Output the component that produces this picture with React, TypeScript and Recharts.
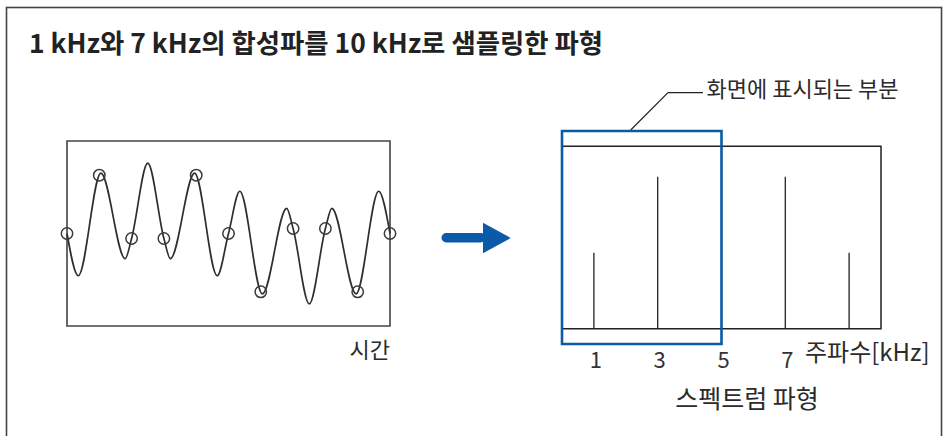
import React from 'react';
import {
  ComposedChart,
  Line,
  Scatter,
  XAxis,
  YAxis,
  ReferenceArea,
  ReferenceLine,
} from 'recharts';

// time-domain curve (ms, arbitrary amplitude)
const waveTime = [0, 0.035, 0.105, 0.18, 0.2, 0.25, 0.3, 0.32, 0.395, 0.465, 0.5, 0.535, 0.605, 0.68, 0.7, 0.75, 0.8, 0.82, 0.895, 0.965, 1.0];
const waveValue = [0, -42, 60, -25, -5, 70, -5, -25, 60, -42, 0, 42, -60, 25, 5, -70, 5, 25, -60, 42, 0];

// 10 kHz samples (circles)
const sampleTime = [0, 0.1, 0.2, 0.3, 0.4, 0.5, 0.6, 0.7, 0.8, 0.9, 1.0];
const sampleValue = [0, 58, -5, -5, 58, 0, -58, 5, 5, -58, 0];

// spectrum
const specFreq = [1, 3, 7, 9];
const specAmp = [0.5, 1, 1, 0.5];
const freqTicks = [1, 3, 5, 7];
const freqRange = [0, 10];
const shownBand = [0, 5];

const FONT = "'Noto Sans CJK KR', 'Noto Sans', sans-serif";
const BLUE = '#0b5aa8';
const INK = '#2b2b2b';

const waveData = waveTime.map((t, i) => ({ t, v: waveValue[i] }));
const sampleData = sampleTime.map((t, i) => ({ t, v: sampleValue[i] }));
const specData = specFreq.map((f, i) => ({ f, a: specAmp[i] }));

const SampleCircle = (props: any) => {
  const { cx, cy } = props;
  if (cx == null || cy == null) return null;
  return <circle cx={cx} cy={cy} r={5.7} fill="none" stroke="#3a3a3a" strokeWidth={1.5} />;
};

const TimeChart = () => (
  <ComposedChart width={343} height={205} data={waveData} margin={{ top: 10, right: 10, bottom: 10, left: 10 }}>
    <XAxis type="number" dataKey="t" domain={[0, 1]} hide />
    <YAxis type="number" domain={[-92, 92]} hide />
    <ReferenceArea x1={0} x2={1} y1={-92} y2={92} stroke="#444" strokeWidth={1.6} fill="none" fillOpacity={0} />
    <Line type="monotone" dataKey="v" stroke="#2e2e2e" strokeWidth={1.7} dot={false} isAnimationActive={false} />
    <Scatter data={sampleData} dataKey="v" shape={<SampleCircle />} isAnimationActive={false} />
  </ComposedChart>
);

const SpectrumChart = () => (
  <ComposedChart width={339} height={253} data={specData} margin={{ top: 10, right: 10, bottom: 0, left: 10 }}>
    <XAxis
      type="number"
      dataKey="f"
      domain={freqRange}
      ticks={freqTicks}
      interval={0}
      axisLine={false}
      tickLine={false}
      height={30}
      tick={{ fill: '#333', fontSize: 22, fontFamily: FONT, dx: 2 }}
    />
    <YAxis type="number" dataKey="a" domain={[-0.1, 1.3]} hide />
    <ReferenceArea x1={freqRange[0]} x2={freqRange[1]} y1={0} y2={1.2} stroke="#222" strokeWidth={1.5} fill="none" fillOpacity={0} />
    {specData.map((d) => (
      <ReferenceLine
        key={d.f}
        segment={[{ x: d.f, y: 0 }, { x: d.f, y: d.a }]}
        stroke="#222"
        strokeWidth={1.3}
      />
    ))}
    <ReferenceArea x1={shownBand[0]} x2={shownBand[1]} y1={-0.1} y2={1.3} stroke={BLUE} strokeWidth={2.6} fill="none" fillOpacity={0} />
  </ComposedChart>
);

export default function App() {
  return (
    <div style={{ position: 'absolute', left: 0, top: 0, width: 946, height: 436, background: '#fff', overflow: 'hidden', fontFamily: FONT }}>
      <svg width={946} height={436} style={{ position: 'absolute', left: 0, top: 0 }}>
        <rect x={6.5} y={7.5} width={935} height={450} fill="none" stroke="#444" strokeWidth={1.6} />
        <text x={29} y={52.5} fontSize={26.4} fontWeight={700} fill="#222" fontFamily={FONT}>
          1 kHz와 7 kHz의 합성파를 10 kHz로 샘플링한 파형
        </text>
        <text x={390} y={358} fontSize={22} fill={INK} textAnchor="end" fontFamily={FONT}>시간</text>
        {/* arrow */}
        <rect x={441.5} y={233} width={44} height={9.5} rx={4.75} fill={BLUE} />
        <polygon points="483,222.7 510.7,238 483,253.3" fill={BLUE} />
        {/* leader to blue box */}
        <polyline points="630.7,130 668,92.7 703,92.7" fill="none" stroke="#222" strokeWidth={1.2} />
        <text x={706.5} y={97.4} fontSize={22} fill={INK} fontFamily={FONT}>화면에 표시되는 부분</text>
        <text x={805} y={360.8} fontSize={24} fill={INK} fontFamily={FONT}>주파수[kHz]</text>
        <text x={747} y={407.5} fontSize={25} fill={INK} textAnchor="middle" fontFamily={FONT}>스펙트럼 파형</text>
      </svg>
      <div style={{ position: 'absolute', left: 57, top: 131 }}>
        <TimeChart />
      </div>
      <div style={{ position: 'absolute', left: 552, top: 121 }}>
        <SpectrumChart />
      </div>
    </div>
  );
}
